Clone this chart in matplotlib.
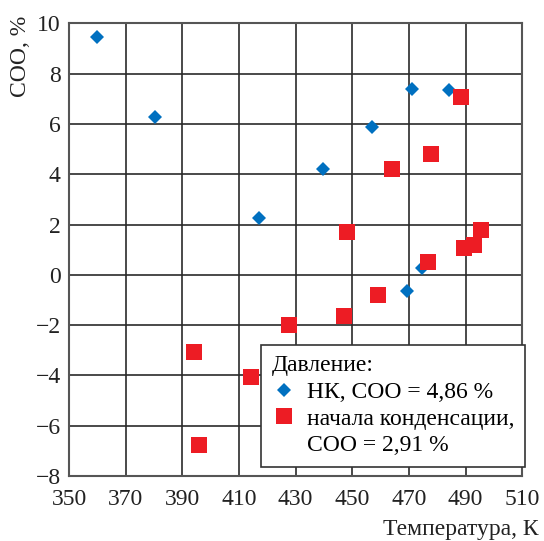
import matplotlib.pyplot as plt

# НК pressure series (blue diamonds)
nk_temp = [359.8, 380.4, 417.1, 439.6, 457.0, 471.1, 484.2, 474.7, 469.3]
nk_soo = [9.47, 6.26, 2.26, 4.21, 5.88, 7.39, 7.35, 0.27, -0.64]

# condensation start pressure series (red squares)
nc_temp = [488.5, 477.9, 464.1, 448.2, 495.6, 492.8, 489.6, 476.9, 459.2,
           447.2, 427.7, 394.2, 414.3, 396.0]
nc_soo = [7.08, 4.82, 4.21, 1.70, 1.78, 1.18, 1.08, 0.51, -0.80,
          -1.65, -2.0, -3.06, -4.05, -6.77]

x_ticks = list(range(350, 511, 20))
y_ticks = list(range(-8, 11, 2))

legend_title = "Давление:"
nk_label = "НК, СОО = 4,86 %"
nc_label = "начала конденсации,"
nc_label2 = "СОО = 2,91 %"

plt.rcParams["font.family"] = ["Liberation Serif", "DejaVu Serif"]
plt.rcParams["font.size"] = 17

fig = plt.figure(figsize=(5.44, 5.41), dpi=100)
ax = fig.add_axes([0.127, 0.12, 0.833, 0.837])

h_nk, = ax.plot(nk_temp, nk_soo, linestyle="none", marker="D", markersize=7.2,
                color="#0070C0", markeredgewidth=0, label=nk_label, zorder=3)
h_nc, = ax.plot(nc_temp, nc_soo, linestyle="none", marker="s", markersize=11.5,
                color="#ED1C24", markeredgewidth=0, label=nc_label, zorder=3)
# empty handle so the second line of the label sits under the first
h_blank, = ax.plot([], [], linestyle="none", label=nc_label2)

ax.set_xlim(350, 510)
ax.set_ylim(-8, 10)
ax.set_xticks(x_ticks)
ax.set_yticks(y_ticks)
ax.tick_params(length=0, labelsize=17, colors="#222222")
ax.tick_params(axis="x", pad=9)
ax.tick_params(axis="y", pad=6)
ax.grid(True, color="#2a2a2a", linewidth=1.2)
ax.set_axisbelow(True)
for s in ax.spines.values():
    s.set_color("#555555")
    s.set_linewidth(1.5)

# axis titles placed like in the source figure
fig.text(21 / 544, 1 - 56 / 541, "СОО, %", rotation=90,
         ha="center", va="center", fontsize=17, color="#222222")
fig.text(461 / 544, 1 - 529 / 541, "Температура, К",
         ha="center", va="center", fontsize=17, color="#222222")

leg = ax.legend(handles=[h_nk, h_nc, h_blank], title=legend_title,
                loc="lower right", bbox_to_anchor=(1.007, 0.02),
                borderaxespad=0, fontsize=17, title_fontsize=17,
                alignment="left", frameon=True, fancybox=False,
                framealpha=1, edgecolor="#333333", handlelength=1.0,
                handletextpad=0.5, labelspacing=0.22, borderpad=0.45)
leg.get_frame().set_linewidth(1.2)
leg.set_zorder(5)

fig.savefig("out.png", dpi=100)
